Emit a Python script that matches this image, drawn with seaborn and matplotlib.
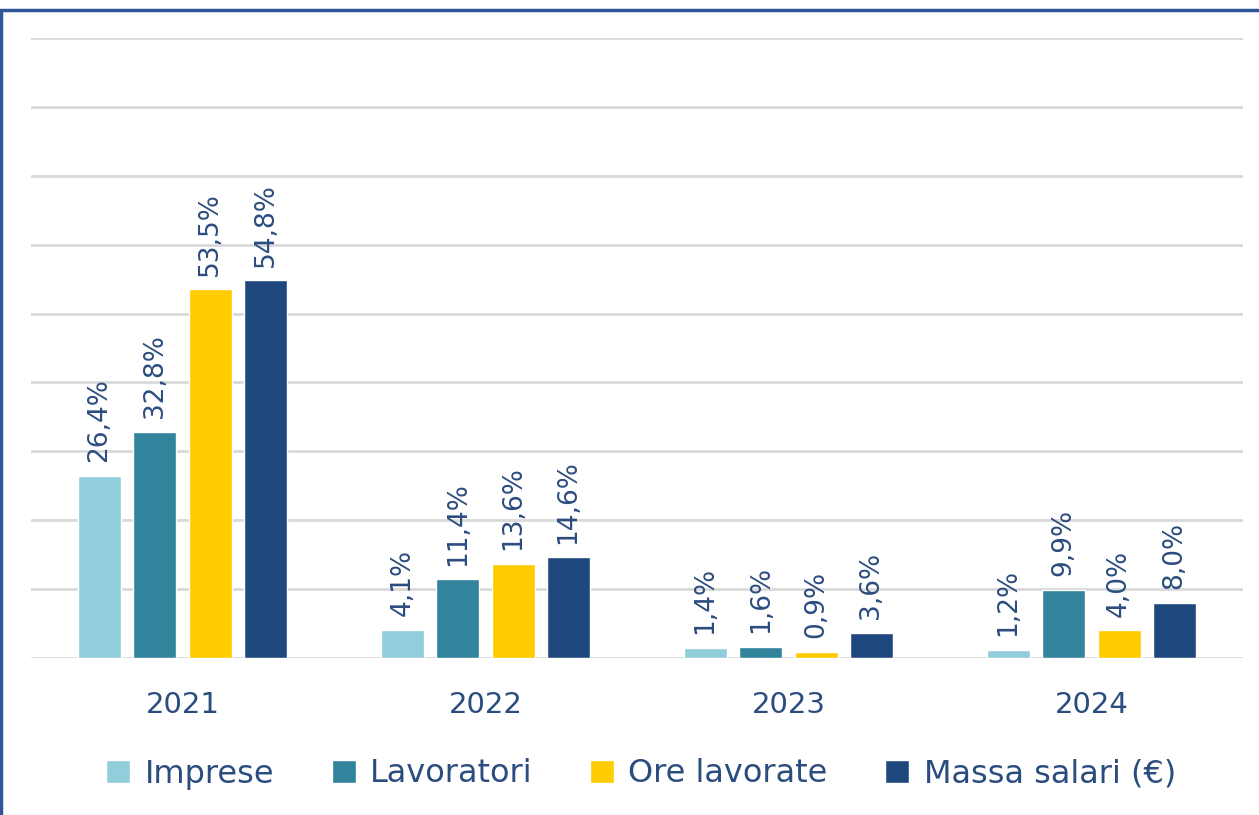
import matplotlib
matplotlib.use("Agg")
import matplotlib.pyplot as plt
import seaborn as sns
import pandas as pd
from matplotlib.patches import Rectangle

years = ["2021", "2022", "2023", "2024"]
series = ["Imprese", "Lavoratori", "Ore lavorate", "Massa salari (€)"]
imprese = [26.4, 4.1, 1.4, 1.2]
lavoratori = [32.8, 11.4, 1.6, 9.9]
ore_lavorate = [53.5, 13.6, 0.9, 4.0]
massa_salari = [54.8, 14.6, 3.6, 8.0]
colors = ["#92CDDC", "#31849B", "#FFCC00", "#1F497D"]
text_color = "#2B4C7E"

rows = []
for s, vals in zip(series, [imprese, lavoratori, ore_lavorate, massa_salari]):
    for y, v in zip(years, vals):
        rows.append({"Anno": y, "Serie": s, "Valore": v})
df = pd.DataFrame(rows)

sns.set_theme(style="white")
plt.rcParams["font.family"] = ["DejaVu Sans"]

fig = plt.figure(figsize=(12.59, 8.15), dpi=100)
ax = fig.add_axes([31 / 1259, (815 - 658) / 815, 1212 / 1259, 620 / 815])

sns.barplot(data=df, x="Anno", y="Valore", hue="Serie", order=years,
            hue_order=series, palette=colors, width=0.73, gap=0.22,
            saturation=1, ax=ax, legend=True)

ax.set_ylim(0, 90)
ax.set_xlim(-0.5, 3.5)
ax.set_yticks(range(0, 91, 10))
ax.yaxis.grid(True, color="#D9D9D9", linewidth=2)
ax.set_axisbelow(True)
ax.tick_params(axis="y", left=False, labelleft=False)
ax.tick_params(axis="x", bottom=False, labelsize=21, labelcolor=text_color, pad=18)
for sp in ax.spines.values():
    sp.set_visible(False)
ax.set_xlabel("")
ax.set_ylabel("")

for cont in ax.containers:
    labels = [f"{v:.1f}".replace(".", ",") + "%" for v in cont.datavalues]
    ax.bar_label(cont, labels=labels, rotation=90, padding=10, fontsize=19,
                 color=text_color)

handles, lbls = ax.get_legend_handles_labels()
ax.legend_.remove()
leg = fig.legend(handles, lbls, loc="center", bbox_to_anchor=(641 / 1259, 1 - 774 / 815),
                 ncol=4, frameon=False, fontsize=23, handlelength=0.75,
                 handleheight=0.75, handletextpad=0.45, columnspacing=1.8)
for t in leg.get_texts():
    t.set_color(text_color)

fig.patches.append(Rectangle((1 / 1259, -0.1), 1.2, 1 - 10 / 815 + 0.1,
                             transform=fig.transFigure, fill=False,
                             edgecolor="#2F5597", linewidth=2.5))

fig.savefig("out.png", dpi=100)
